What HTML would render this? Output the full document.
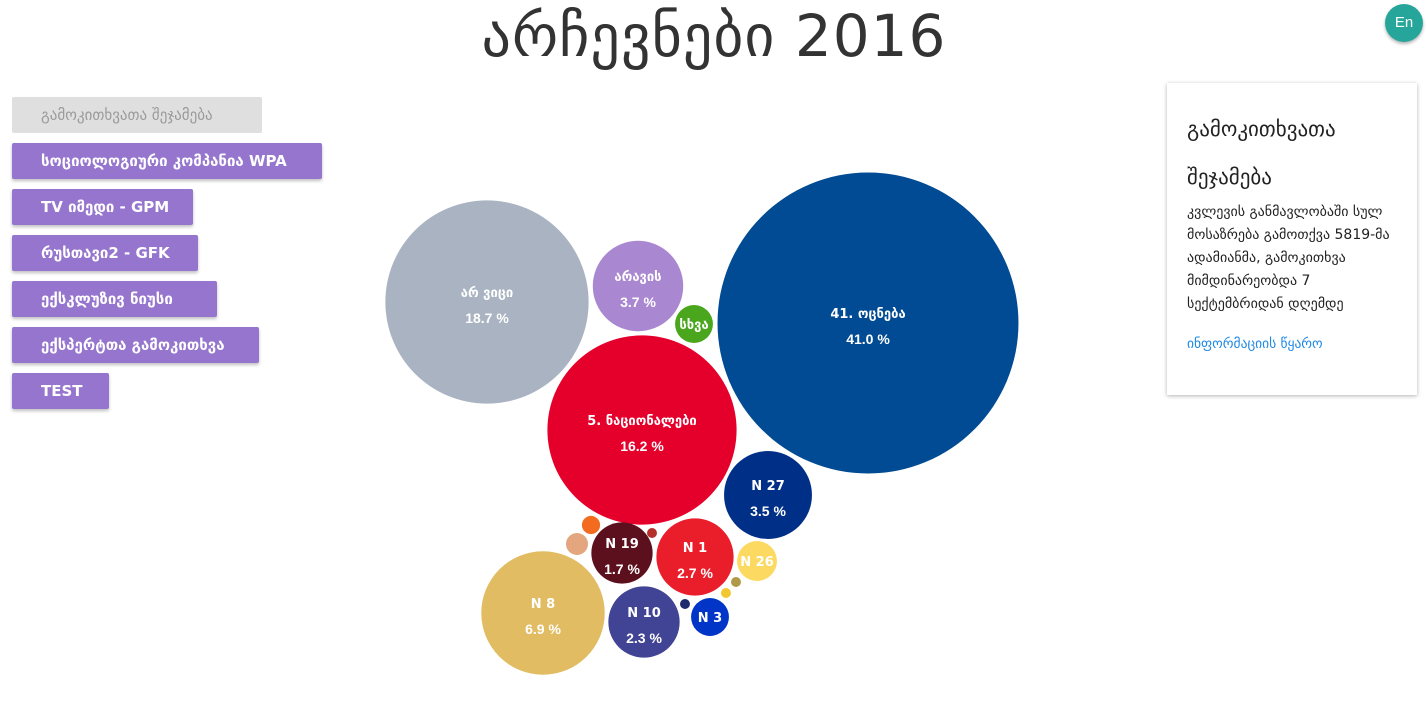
<!DOCTYPE html>
<html><head><meta charset="utf-8">
<style>
body{margin:0;width:1428px;height:714px;background:#fff;overflow:hidden;font-family:"Liberation Sans","DejaVu Sans",sans-serif;position:relative}
h1{position:absolute;left:0;width:1428px;top:2px;margin:0;text-align:center;font-weight:400;font-size:58px;color:#333;font-family:"DejaVu Sans","Liberation Sans",sans-serif;letter-spacing:1px}
.btn{position:absolute;left:12px;height:36px;line-height:36px;background:#9575cd;color:#fff;font-weight:bold;font-size:15px;padding-left:29px;box-sizing:border-box;border-radius:2px;box-shadow:0 2px 3px rgba(0,0,0,.25);font-family:"DejaVu Sans",sans-serif;white-space:nowrap}
.btn.dis{background:#dfdfdf;color:#9a9a9a;box-shadow:none;font-weight:normal}
.card{position:absolute;left:1167px;top:83px;width:250px;height:312px;box-shadow:0 1px 4px rgba(0,0,0,.3);box-sizing:border-box;padding:16px 18px 16px 20px;font-family:"DejaVu Sans",sans-serif;color:#222}
.card h2{font-size:21px;font-weight:400;line-height:48px;margin:6px 0 0}
.card p{font-size:14px;line-height:23px;margin:0;padding-right:4px}
.card a{display:block;color:#1e88e5;font-size:13.5px;margin-top:20px}
.en{position:absolute;left:1385px;top:4px;width:38px;height:38px;border-radius:50%;background:#26a69a;color:#fff;font-size:15px;text-align:center;line-height:38px;box-shadow:0 2px 3px rgba(0,0,0,.3)}
</style></head><body>
<h1>არჩევნები 2016</h1>
<div class="en">En</div>
<div class="btn dis" style="top:97px;width:250px">გამოკითხვათა შეჯამება</div>
<div class="btn" style="top:143px;width:310px">სოციოლოგიური კომპანია WPA</div>
<div class="btn" style="top:189px;width:181px">TV იმედი - GPM</div>
<div class="btn" style="top:235px;width:186px">რუსთავი2 - GFK</div>
<div class="btn" style="top:281px;width:205px">ექსკლუზივ ნიუსი</div>
<div class="btn" style="top:327px;width:247px">ექსპერტთა გამოკითხვა</div>
<div class="btn" style="top:373px;width:97px">TEST</div>
<div class="card">
<h2>გამოკითხვათა შეჯამება</h2>
<p>კვლევის განმავლობაში სულ მოსაზრება გამოთქვა 5819-მა ადამიანმა, გამოკითხვა მიმდინარეობდა 7 სექტემბრიდან დღემდე</p>
<a>ინფორმაციის წყარო</a>
</div>
<svg id="chart" width="1428" height="714" style="position:absolute;left:0;top:0"></svg>
<script>
const labels=["41. ოცნება","არ ვიცი","5. ნაციონალები","N 8","N 27","არავის","N 1","N 10","N 19","სხვა","N 26","N 3","","","","","",""];
const values=[41.0,18.7,16.2,6.9,3.5,3.7,2.7,2.3,1.7,0.65,0.72,0.65,0.15,0.22,0.045,0.045,0.045,0.045];
const showPct=[true,true,true,true,true,true,true,true,true,false,false,false,false,false,false,false,false,false];
const colors=["#004b93","#a9b3c1","#e4002b","#e2bc62","#002f87","#a987d1","#ea1d2b","#414394","#5c0f1c","#4aa71d","#fcd960","#0035c7","#f26b1f","#e3a67f","#b5302a","#1d2a6b","#b09a48","#f2c830"];
// layout (pack positions)
const layoutX=[868,487,642,543,768,638,695,644,622,694,757,710,591,577,652,685,736,726];
const layoutY=[323,302,430,613,495,286,557,622,553,324,561,617,525,544,533,604,582,593];
const rScale=v=>23.5*Math.sqrt(v);
const svg=document.getElementById('chart');const NS="http://www.w3.org/2000/svg";
values.forEach((v,i)=>{
 const r=rScale(v);
 const c=document.createElementNS(NS,'circle');
 c.setAttribute('cx',layoutX[i]);c.setAttribute('cy',layoutY[i]);c.setAttribute('r',r);c.setAttribute('fill',colors[i]);
 
 
 svg.appendChild(c);
 if(labels[i]){
  const t=document.createElementNS(NS,'text');
  t.setAttribute('x',layoutX[i]);t.setAttribute('y',layoutY[i]+(showPct[i]?-5:5));
  t.setAttribute('text-anchor','middle');t.setAttribute('fill','#fff');t.setAttribute('font-weight','bold');
  t.setAttribute('font-size','13');t.setAttribute('font-family','"DejaVu Sans","Liberation Sans",sans-serif');
  t.textContent=labels[i];
  
  
  svg.appendChild(t);
  if(showPct[i]){
   const p=document.createElementNS(NS,'text');
   p.setAttribute('x',layoutX[i]);p.setAttribute('y',layoutY[i]+21);
   p.setAttribute('text-anchor','middle');p.setAttribute('fill','#fff');p.setAttribute('font-weight','bold');
   p.setAttribute('font-size','14');p.setAttribute('font-family','"Liberation Sans",sans-serif');
   p.textContent=v.toFixed(1)+' %';
   
   
   svg.appendChild(p);
  }
 }
});
</script>
</body></html>
